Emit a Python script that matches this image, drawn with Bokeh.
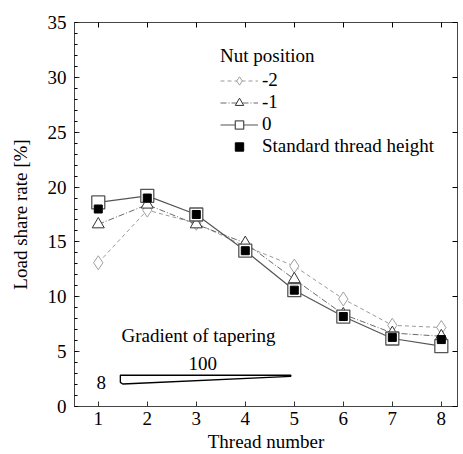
from bokeh.plotting import figure
from bokeh.models import Range1d, LinearAxis, Legend, LegendItem, FixedTicker, Label
from bokeh.embed import file_html
from bokeh.resources import INLINE

threads = [1, 2, 3, 4, 5, 6, 7, 8]
pos_m2 = [13.1, 17.9, 16.7, 14.6, 12.8, 9.8, 7.4, 7.2]
pos_m1 = [16.6, 18.4, 16.6, 14.9, 11.6, 8.4, 6.7, 6.4]
pos_0 = [18.6, 19.2, 17.5, 14.2, 10.6, 8.2, 6.2, 5.5]
standard = [18.0, 19.0, 17.5, 14.2, 10.6, 8.2, 6.3, 6.1]
y_ticks = [0, 5, 10, 15, 20, 25, 30, 35]

FONT = "Liberation Serif"

p = figure(width=463, height=454, output_backend="svg", toolbar_location=None,
           x_range=Range1d(0.515, 8.33), y_range=Range1d(0, 35),
           min_border_left=74, min_border_right=6, min_border_top=22, min_border_bottom=10)
p.grid.visible = False
p.outline_line_color = "#444444"
p.outline_line_width = 1

for ax in (p.xaxis[0], p.yaxis[0]):
    ax.axis_line_color = "#444444"
    ax.major_label_text_font = FONT
    ax.major_label_text_font_size = "19px"
    ax.major_label_text_color = "black"
    ax.axis_label_text_font = FONT
    ax.axis_label_text_font_size = "19px"
    ax.axis_label_text_font_style = "normal"
    ax.axis_label_text_color = "black"
    ax.major_tick_in = 5
    ax.major_tick_out = 0
    ax.major_tick_line_color = "#333333"

p.xaxis.ticker = FixedTicker(ticks=threads)
p.xaxis.axis_label = "Thread number"
p.xaxis.minor_tick_line_color = None
p.xaxis.major_label_standoff = 5
p.xaxis.axis_label_standoff = 3
p.yaxis.ticker = FixedTicker(ticks=y_ticks, minor_ticks=list(range(0, 36)))
p.yaxis.axis_label = "Load share rate [%]"
p.yaxis.minor_tick_in = 3
p.yaxis.minor_tick_out = 0
p.yaxis.major_label_standoff = 8
p.yaxis.axis_label_standoff = 14

top = LinearAxis(ticker=FixedTicker(ticks=threads), major_label_text_font_size="0px",
                 major_tick_in=5, major_tick_out=0, minor_tick_line_color=None,
                 axis_line_color="#444444")
right = LinearAxis(ticker=FixedTicker(ticks=y_ticks), major_label_text_font_size="0px",
                   major_tick_in=5, major_tick_out=0, minor_tick_line_color=None,
                   axis_line_color="#444444")
p.add_layout(top, "above")
p.add_layout(right, "right")

l_m2 = p.line(threads, pos_m2, line_color="#9a9a9a", line_width=1, line_dash="4 3")
s_m2 = p.scatter(threads, pos_m2, marker="diamond", size=14, fill_color="white",
                 line_color="#a0a0a0", line_width=1)
l_m1 = p.line(threads, pos_m1, line_color="#6a6a6a", line_width=1, line_dash="6 2 1 2")
s_m1 = p.scatter(threads, pos_m1, marker="triangle", size=12, fill_color="white",
                 line_color="#333333", line_width=1)
l_0 = p.line(threads, pos_0, line_color="#555555", line_width=1.2)
s_0 = p.scatter(threads, pos_0, marker="square", size=13, fill_color="white",
                line_color="#555555", line_width=1.3)
s_std = p.scatter(threads, standard, marker="square", size=8, fill_color="black",
                  line_color="black")

legend = Legend(items=[
    LegendItem(label="-2", renderers=[l_m2, s_m2]),
    LegendItem(label="-1", renderers=[l_m1, s_m1]),
    LegendItem(label="0", renderers=[l_0, s_0]),
    LegendItem(label="Standard thread height", renderers=[s_std]),
], location=(146, 249), title="Nut position")
legend.title_text_font = FONT
legend.title_text_font_size = "19px"
legend.title_text_font_style = "normal"
legend.title_text_color = "black"
legend.title_standoff = 2
legend.label_text_font = FONT
legend.label_text_font_size = "19px"
legend.label_text_color = "black"
legend.label_standoff = 4
legend.glyph_width = 38
legend.glyph_height = 21
legend.label_height = 21
legend.spacing = 0
legend.padding = 0
legend.margin = 0
legend.border_line_alpha = 0
legend.background_fill_alpha = 0
p.add_layout(legend, "center")

# tapering wedge annotation
p.patch([1.45, 4.93, 4.93, 1.5, 1.45], [2.85, 2.85, 2.75, 2.05, 2.2],
        fill_color="white", line_color="black", line_width=1.3)
p.add_layout(Label(x=47, y=61, x_units="screen", y_units="screen", text_color="black",
                   text="Gradient of tapering", text_font=FONT, text_font_size="19px"))
p.add_layout(Label(x=114, y=37, x_units="screen", y_units="screen", text_color="black",
                   text="100", text_font=FONT, text_font_size="19px"))
p.add_layout(Label(x=22, y=18, x_units="screen", y_units="screen", text_color="black",
                   text="8", text_font=FONT, text_font_size="19px"))

open("out.html", "w").write(file_html(p, INLINE))
